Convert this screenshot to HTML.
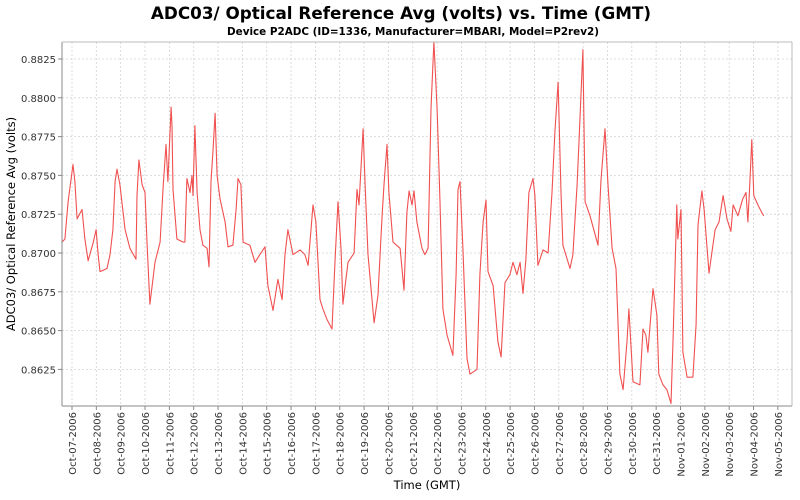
<!DOCTYPE html>
<html><head><meta charset="utf-8"><style>
body{margin:0;background:#fff;}
svg{display:block;font-family:"DejaVu Sans","Liberation Sans",sans-serif;}
</style></head><body>
<svg id="chart" width="800" height="500" viewBox="0 0 800 500" xmlns="http://www.w3.org/2000/svg">
<rect width="800" height="500" fill="#fff"/>
<text x="401" y="19" text-anchor="middle" font-size="16.8" font-weight="bold" fill="#000">ADC03/ Optical Reference Avg (volts) vs. Time (GMT)</text>
<text x="413" y="35" text-anchor="middle" font-size="10.4" font-weight="bold" fill="#000">Device P2ADC (ID=1336, Manufacturer=MBARI, Model=P2rev2)</text>
<text transform="translate(15,224) rotate(-90)" text-anchor="middle" font-size="11.5" fill="#000">ADC03/ Optical Reference Avg (volts)</text>
<text x="427" y="489" text-anchor="middle" font-size="11.5" fill="#000">Time (GMT)</text>
<g id="grid"></g>
<g id="series"></g>
<g id="axes"></g>
</svg>
<script>
const yTicks = [0.8625, 0.8650, 0.8675, 0.8700, 0.8725, 0.8750, 0.8775, 0.8800, 0.8825];
const xTickLabels = ["Oct-07-2006","Oct-08-2006","Oct-09-2006","Oct-10-2006","Oct-11-2006","Oct-12-2006","Oct-13-2006","Oct-14-2006","Oct-15-2006","Oct-16-2006","Oct-17-2006","Oct-18-2006","Oct-19-2006","Oct-20-2006","Oct-21-2006","Oct-22-2006","Oct-23-2006","Oct-24-2006","Oct-25-2006","Oct-26-2006","Oct-27-2006","Oct-28-2006","Oct-29-2006","Oct-30-2006","Oct-31-2006","Nov-01-2006","Nov-02-2006","Nov-03-2006","Nov-04-2006","Nov-05-2006"];
// days since Oct-07-2006 00:00 GMT
const times = [-0.41,-0.29,-0.16,0.04,0.12,0.21,0.41,0.53,0.66,0.86,0.99,1.07,1.15,1.44,1.56,1.68,1.77,1.85,1.97,2.18,2.38,2.63,2.67,2.75,2.88,3.00,3.08,3.20,3.41,3.62,3.74,3.86,3.94,4.07,4.11,4.15,4.31,4.56,4.64,4.72,4.85,4.93,4.97,5.05,5.14,5.26,5.38,5.55,5.63,5.71,5.79,5.88,5.96,6.08,6.29,6.41,6.61,6.74,6.82,6.94,7.03,7.31,7.52,7.72,7.93,8.05,8.26,8.46,8.63,8.75,8.87,9.08,9.37,9.57,9.70,9.90,10.02,10.19,10.31,10.48,10.68,10.81,10.93,11.05,11.13,11.34,11.59,11.71,11.79,11.96,12.04,12.16,12.41,12.57,12.74,12.82,12.94,13.02,13.19,13.48,13.64,13.76,13.85,13.97,14.05,14.17,14.38,14.50,14.63,14.75,14.87,15.00,15.12,15.24,15.41,15.65,15.78,15.86,15.94,16.06,16.23,16.35,16.64,16.76,16.89,17.01,17.09,17.30,17.50,17.63,17.79,17.99,18.12,18.28,18.41,18.53,18.65,18.77,18.94,19.02,19.14,19.35,19.56,19.72,19.84,19.97,20.09,20.17,20.46,20.58,20.75,20.83,20.99,21.08,21.28,21.61,21.73,21.90,22.02,22.19,22.35,22.51,22.64,22.80,22.88,23.05,23.33,23.46,23.58,23.66,23.87,24.03,24.11,24.28,24.44,24.61,24.69,24.85,24.89,25.02,25.10,25.27,25.51,25.64,25.72,25.88,25.97,26.17,26.42,26.58,26.75,26.91,27.07,27.16,27.36,27.56,27.69,27.77,27.85,27.93,28.01,28.18,28.34,28.42];
const values = [0.8707,0.8709,0.8733,0.8757,0.8746,0.8722,0.8728,0.8709,0.8695,0.8706,0.8715,0.8700,0.8688,0.8690,0.8699,0.8715,0.8746,0.8754,0.8744,0.8715,0.8703,0.8696,0.8737,0.8760,0.8744,0.8739,0.8707,0.8667,0.8694,0.8707,0.8741,0.8770,0.8746,0.8794,0.8782,0.8741,0.8709,0.8707,0.8707,0.8748,0.8739,0.8750,0.8737,0.8782,0.8739,0.8715,0.8705,0.8703,0.8691,0.8746,0.8765,0.8790,0.8750,0.8735,0.8720,0.8704,0.8705,0.8728,0.8748,0.8744,0.8707,0.8705,0.8694,0.8699,0.8704,0.8679,0.8663,0.8683,0.8670,0.8699,0.8715,0.8699,0.8702,0.8699,0.8692,0.8731,0.8720,0.8670,0.8664,0.8657,0.8651,0.8696,0.8733,0.8703,0.8667,0.8694,0.8700,0.8741,0.8731,0.8780,0.8744,0.8699,0.8655,0.8673,0.8724,0.8744,0.8770,0.8739,0.8707,0.8703,0.8676,0.8726,0.8740,0.8731,0.8740,0.8720,0.8703,0.8699,0.8703,0.8793,0.8836,0.8793,0.8733,0.8664,0.8647,0.8634,0.8686,0.8741,0.8746,0.8703,0.8632,0.8622,0.8625,0.8686,0.8720,0.8734,0.8688,0.8679,0.8643,0.8633,0.8681,0.8686,0.8694,0.8686,0.8694,0.8674,0.8696,0.8739,0.8748,0.8737,0.8692,0.8702,0.8700,0.8739,0.8778,0.8810,0.8739,0.8705,0.8690,0.8699,0.8744,0.8772,0.8831,0.8733,0.8724,0.8705,0.8746,0.8780,0.8744,0.8703,0.8690,0.8622,0.8612,0.8643,0.8664,0.8617,0.8615,0.8651,0.8647,0.8636,0.8677,0.8660,0.8622,0.8615,0.8612,0.8603,0.8643,0.8731,0.8709,0.8728,0.8636,0.8620,0.8620,0.8654,0.8718,0.8740,0.8728,0.8687,0.8715,0.8720,0.8737,0.8722,0.8714,0.8731,0.8724,0.8735,0.8739,0.8720,0.8746,0.8773,0.8737,0.8731,0.8726,0.8724];

const L=62,R=792,T=42,B=406;
const X0=72, DAY=24.34;
const Y0v=0.8825, Y0p=59, PXPER=38.8/0.0025;
function xs(d){return X0+d*DAY;}
function ys(v){return Y0p-(v-Y0v)*PXPER;}
const NS="http://www.w3.org/2000/svg";
function mk(tag,parent,attrs){const e=document.createElementNS(NS,tag);for(const k in attrs)e.setAttribute(k,attrs[k]);parent.appendChild(e);return e;}
const grid=document.getElementById('grid'),axes=document.getElementById('axes'),series=document.getElementById('series');
mk('rect',grid,{x:L,y:T,width:R-L,height:B-T,fill:'#fff'});
yTicks.forEach((v)=>{
  const y=ys(v);
  const g=mk('line',grid,{x1:L,x2:R,y1:y,y2:y,stroke:'#d4d4d4','stroke-width':0.8,'stroke-dasharray':'2,2'});
  
  
  const t=mk('line',axes,{x1:L-4,x2:L,y1:y,y2:y,stroke:'#888'});
  
  
  const lb=mk('text',axes,{x:L-6,y:y+4,'text-anchor':'end','font-size':10,fill:'#333'});
  lb.textContent=v.toFixed(4);
  
  
});
xTickLabels.forEach((s,i)=>{
  const x=xs(i);
  const g=mk('line',grid,{x1:x,x2:x,y1:T,y2:B,stroke:'#d4d4d4','stroke-width':0.8,'stroke-dasharray':'2,2'});
  
  
  const t=mk('line',axes,{x1:x,x2:x,y1:B,y2:B+4,stroke:'#888'});
  
  
  const lb=mk('text',axes,{transform:`translate(${x+4},${B+6}) rotate(-90)`,'text-anchor':'end','font-size':10,fill:'#333'});
  lb.textContent=s;
  
  
});
const bl=mk('line',axes,{x1:L,x2:L,y1:T,y2:B,stroke:'#888','stroke-width':1});


const bb=mk('line',axes,{x1:L,x2:R,y1:B,y2:B,stroke:'#888','stroke-width':1});


const bt=mk('line',axes,{x1:L,x2:R,y1:T,y2:T,stroke:'#bbb','stroke-width':1});


const br=mk('line',axes,{x1:R,x2:R,y1:T,y2:B,stroke:'#bbb','stroke-width':1});


const pts=times.map((d,i)=>xs(d).toFixed(1)+','+ys(values[i]).toFixed(1)).join(' ');
const line=mk('polyline',series,{points:pts,fill:'none',stroke:'#f05050','stroke-width':1.1,'stroke-linejoin':'round'});


</script>
</body></html>
